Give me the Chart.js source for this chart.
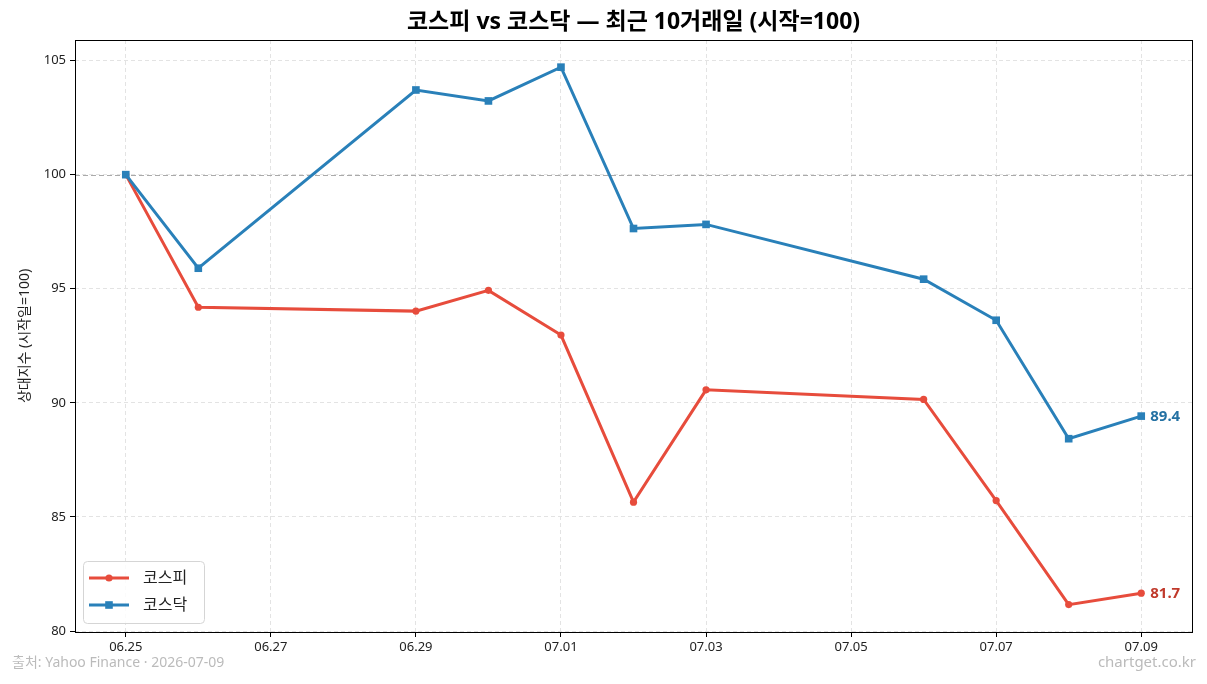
<!DOCTYPE html>
<html><head><meta charset="utf-8">
<script src="https://cdn.jsdelivr.net/npm/chart.js@4.4.1/dist/chart.umd.min.js"></script>
<style>html,body{margin:0;padding:0;background:#fff}#wrap{width:1207px;height:684px}</style>
</head><body><div id="wrap"><canvas id="c" width="1207" height="684"></canvas></div>
<script>
const dates = ['06.25','06.26','06.29','06.30','07.01','07.02','07.03','07.06','07.07','07.08','07.09'];
const kospi = [100, 94.19, 94.02, 94.93, 92.97, 85.65, 90.57, 90.15, 85.72, 81.16, 81.66];
const kosdaq = [100, 95.90, 103.71, 103.23, 104.71, 97.64, 97.82, 95.42, 93.62, 88.43, 89.42];
const xTickDays = [0, 2, 4, 6, 8, 10, 12, 14];
const yTicks = [80, 85, 90, 95, 100, 105];
const titleText = '코스피 vs 코스닥 — 최근 10거래일 (시작=100)';
const yTitle = '상대지수 (시작일=100)';
const sourceText = '출처: Yahoo Finance · 2026-07-09';
const brandText = 'chartget.co.kr';

const FONT = '"Noto Sans", "Noto Sans CJK KR", sans-serif';
const base = new Date(2026, 5, 25);
function dayOf(s){ const [m,d] = s.split('.').map(Number); return Math.round((new Date(2026, m-1, d) - base)/86400000); }
function labelOf(n){ const d = new Date(2026, 5, 25 + n); return String(d.getMonth()+1).padStart(2,'0') + '.' + String(d.getDate()).padStart(2,'0'); }
const xs = dates.map(dayOf);
const RED = '#e74c3c', BLUE = '#2980b9';

const deco = {
  id: 'deco',
  beforeDatasetsDraw(chart){
    const {ctx, chartArea: a, scales: {y}} = chart;
    const yy = Math.round(y.getPixelForValue(100)) + 0.5;
    ctx.save();
    ctx.strokeStyle = '#aaaaaa'; ctx.lineWidth = 1.2; ctx.setLineDash([5, 3]);
    ctx.beginPath(); ctx.moveTo(a.left, yy); ctx.lineTo(a.right, yy); ctx.stroke();
    ctx.restore();
  },
  afterDraw(chart){
    const {ctx, chartArea: a, scales: {x, y}} = chart;
    ctx.save();
    ctx.strokeStyle = '#000'; ctx.lineWidth = 1;
    ctx.strokeRect(Math.round(a.left) + 0.5, Math.round(a.top) + 0.5, Math.round(a.right - a.left), Math.round(a.bottom - a.top));
    ctx.fillStyle = '#000'; ctx.textAlign = 'center'; ctx.textBaseline = 'middle';
    ctx.font = 'bold 23px ' + FONT;
    ctx.fillText(titleText, (a.left + a.right) / 2, 22);
    ctx.save(); ctx.translate(25, (a.top + a.bottom) / 2); ctx.rotate(-Math.PI / 2);
    ctx.font = '14px ' + FONT; ctx.fillStyle = '#222'; ctx.fillText(yTitle, 0, 0); ctx.restore();
    ctx.font = '14px ' + FONT; ctx.fillStyle = '#bbbbbb'; ctx.textAlign = 'left';
    ctx.fillText(sourceText, 12, 663);
    ctx.font = '15px ' + FONT; ctx.textAlign = 'right';
    ctx.fillText(brandText, 1196, 663);
    const ends = [[kospi, '#c0392b'], [kosdaq, '#2471a3']];
    ctx.font = 'bold 15px ' + FONT; ctx.textAlign = 'left';
    ends.forEach(([arr, col]) => {
      const i = arr.length - 1;
      ctx.fillStyle = col;
      ctx.fillText(arr[i].toFixed(1), x.getPixelForValue(xs[i]) + 9, y.getPixelForValue(arr[i]) + 1);
    });
    const lx = 83, ly = 561, lw = 121, lh = 62;
    ctx.beginPath(); ctx.roundRect(lx + 0.5, ly + 0.5, lw, lh, 4);
    ctx.fillStyle = 'rgba(255,255,255,0.85)'; ctx.fill();
    ctx.strokeStyle = '#d5d5d5'; ctx.lineWidth = 1; ctx.stroke();
    chart.data.datasets.forEach((ds, k) => {
      const cy = ly + 17 + k * 27;
      ctx.strokeStyle = ds.borderColor; ctx.lineWidth = ds.borderWidth;
      ctx.beginPath(); ctx.moveTo(89, cy); ctx.lineTo(129, cy); ctx.stroke();
      ctx.fillStyle = ds.borderColor;
      if (ds.pointStyle === 'rect') { ctx.fillRect(109 - 3.8, cy - 3.8, 7.6, 7.6); }
      else { ctx.beginPath(); ctx.arc(109, cy, 3.6, 0, Math.PI * 2); ctx.fill(); }
      ctx.fillStyle = '#222'; ctx.font = '16px ' + FONT; ctx.textAlign = 'left'; ctx.textBaseline = 'middle';
      ctx.fillText(ds.label, 143, cy);
    });
    ctx.restore();
  }
};

new Chart(document.getElementById('c'), {
  type: 'line',
  data: {
    datasets: [
      { label: '코스피', order: 1, data: xs.map((v, i) => ({x: v, y: kospi[i]})), borderColor: RED, backgroundColor: RED,
        borderWidth: 3, pointStyle: 'circle', pointRadius: 3.6, pointBorderWidth: 0, tension: 0 },
      { label: '코스닥', order: 0, data: xs.map((v, i) => ({x: v, y: kosdaq[i]})), borderColor: BLUE, backgroundColor: BLUE,
        borderWidth: 3, pointStyle: 'rect', pointRadius: 5.4, pointBorderWidth: 0, tension: 0 }
    ]
  },
  options: {
    responsive: false, animation: false, devicePixelRatio: 1,
    layout: { padding: { left: 0, right: 15, top: 40, bottom: 0 } },
    plugins: { legend: { display: false }, title: { display: false }, tooltip: { enabled: false } },
    scales: {
      x: {
        type: 'linear', min: -0.7, max: 14.7,
        afterBuildTicks: s => { s.ticks = xTickDays.map(v => ({value: v})); },
        afterFit: s => { s.height = 52; },
        ticks: { callback: v => labelOf(v), font: { family: FONT, size: 13 }, color: '#222', padding: 2, maxRotation: 0, autoSkip: false },
        grid: { color: '#e3e3e3', lineWidth: 1, tickLength: 5, tickColor: '#000', drawTicks: true },
        border: { display: false, dash: [4, 3] }
      },
      y: {
        type: 'linear', min: 79.96, max: 105.9,
        afterBuildTicks: s => { s.ticks = yTicks.map(v => ({value: v})); },
        afterFit: s => { s.width = 75; },
        ticks: { font: { family: FONT, size: 13 }, color: '#222', padding: 4 },
        grid: { color: '#e3e3e3', lineWidth: 1, tickLength: 5, tickColor: '#000' },
        border: { display: false, dash: [4, 3] }
      }
    }
  },
  plugins: [deco]
});
</script></body></html>
